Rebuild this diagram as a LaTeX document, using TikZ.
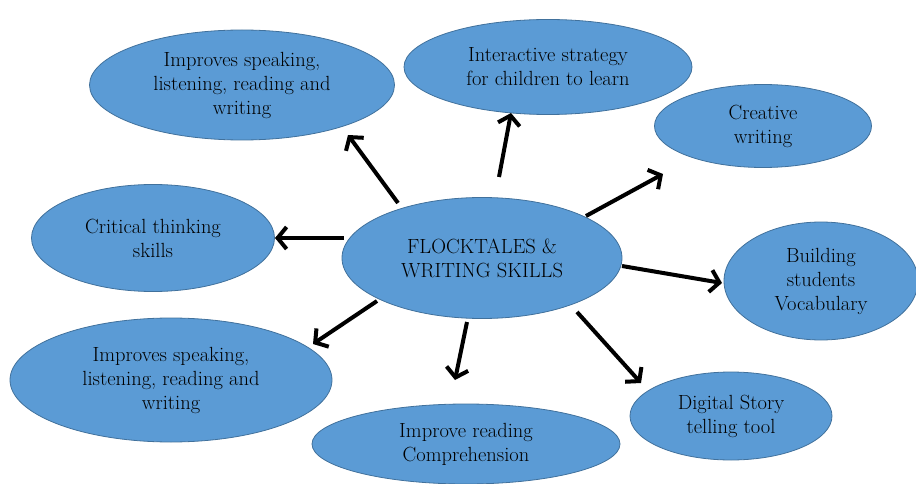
\documentclass[tikz,border=0pt]{standalone}
\usepackage{amsmath}
\usepackage{tikz}
\usetikzlibrary{arrows.meta}
\usetikzlibrary{shapes.geometric}
\definecolor{bubble}{RGB}{91,155,213}
\definecolor{bubbleline}{RGB}{65,113,156}
\tikzset{
  bubble/.style={ellipse, draw=bubbleline, line width=0.8pt, fill=bubble,
    inner sep=0pt, align=center, font=\fontsize{20.5}{24}\selectfont},
  pointer/.style={line width=4pt, -{Straight Barb[length=9pt,width=22pt,line width=4pt]}}
}
\begin{document}
\begin{tikzpicture}[x=1pt,y=-1pt]
\useasboundingbox (0,0) rectangle (916,484);
% the ovals
\node[bubble, minimum width=280, minimum height=121] (hub) at (482,258) {FLOCKTALES \&\\WRITING SKILLS};
\node[bubble, minimum width=305, minimum height=110] (skillsA) at (242,85) {Improves speaking,\\listening, reading and\\writing};
\node[bubble, minimum width=288, minimum height=95] (strategy) at (548,67) {Interactive strategy\\for children to learn};
\node[bubble, minimum width=217, minimum height=83] (creative) at (763,126) {Creative\\writing};
\node[bubble, minimum width=243, minimum height=107] (critical) at (153,238) {Critical thinking\\skills};
\node[bubble, minimum width=194, minimum height=118] (vocab) at (821,281) {Building\\students\\Vocabulary};
\node[bubble, minimum width=322, minimum height=124] (skillsB) at (171,380) {Improves speaking,\\listening, reading and\\writing};
\node[bubble, minimum width=308, minimum height=80] (reading) at (466,444) {Improve reading\\Comprehension};
\node[bubble, minimum width=202, minimum height=88] (digital) at (731,416) {Digital Story\\telling tool};
% arrow ends
\coordinate (aS) at (398,203); \coordinate (aE) at (348,135);
\coordinate (bS) at (499,177); \coordinate (bE) at (511,113);
\coordinate (cS) at (586,216); \coordinate (cE) at (663,174);
\coordinate (dS) at (344,238); \coordinate (dE) at (275,238);
\coordinate (eS) at (622,266); \coordinate (eE) at (722,283);
\coordinate (fS) at (377,301); \coordinate (fE) at (313,344);
\coordinate (gS) at (467,322); \coordinate (gE) at (455,380);
\coordinate (hS) at (577,312); \coordinate (hE) at (641,383);
\draw[pointer] (aS) -- (aE);
\draw[pointer] (bS) -- (bE);
\draw[pointer] (cS) -- (cE);
\draw[pointer] (dS) -- (dE);
\draw[pointer] (eS) -- (eE);
\draw[pointer] (fS) -- (fE);
\draw[pointer] (gS) -- (gE);
\draw[pointer] (hS) -- (hE);
\end{tikzpicture}
\end{document}
